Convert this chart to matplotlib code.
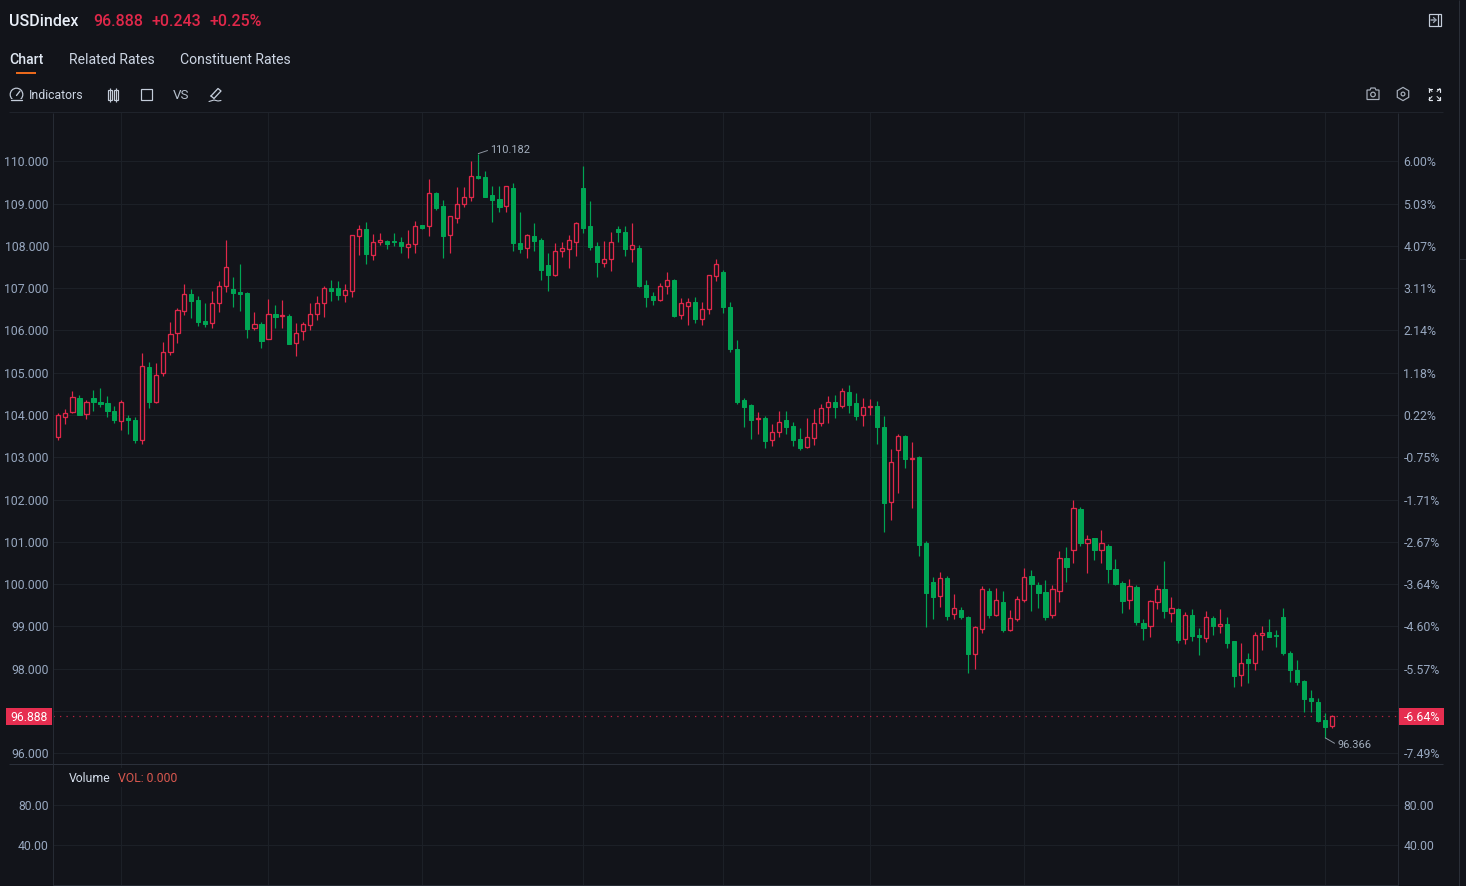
import matplotlib
matplotlib.use("Agg")
import matplotlib.pyplot as plt
from matplotlib.patches import Rectangle, Circle, Polygon
import numpy as np

# candle values, index 0 is the clipped one on the left edge
opens = [103.79,103.49,103.96,104.08,104.41,104.02,104.40,104.31,104.29,104.10,
         103.87,103.93,103.89,103.41,105.14,104.31,105.00,105.50,105.93,106.47,
         106.87,106.72,106.22,106.18,106.64,107.05,106.99,106.91,106.88,106.05,
         106.15,105.80,106.40,106.34,106.34,105.70,105.99,106.12,106.40,106.64,
         107.00,107.00,106.84,106.94,108.24,108.41,107.79,108.08,108.12,108.11,
         108.09,107.97,108.04,108.49,108.48,109.26,108.94,108.26,108.67,108.98,
         109.16,109.65,109.64,109.20,109.10,108.94,109.36,108.07,107.96,108.23,
         108.14,107.54,107.32,107.89,107.93,108.10,109.37,108.47,107.99,107.60,
         107.68,108.39,108.33,107.92,107.96,107.08,106.82,106.72,107.05,107.19,
         106.36,106.57,106.68,106.28,106.50,107.28,107.38,106.56,105.57,104.35,
         104.24,103.90,103.93,103.40,103.59,103.88,103.75,103.43,103.24,103.45,
         103.81,104.19,104.31,104.21,104.55,104.28,104.01,104.18,104.22,103.72,
         101.95,103.17,103.51,102.95,103.00,100.97,100.05,99.71,100.15,99.30,
         99.40,99.22,98.35,98.95,99.85,99.27,99.59,98.92,99.18,99.62,
         100.19,99.98,99.81,99.27,99.85,100.62,100.80,101.79,100.97,101.09,
         100.80,100.90,100.36,100.04,99.63,99.94,99.09,99.00,99.59,99.89,
         99.33,99.41,98.70,99.26,98.81,98.73,99.20,99.00,99.05,98.65,
         97.86,98.23,98.13,98.79,98.87,98.81,99.22,98.37,97.96,97.70,
         97.32,97.21,96.79,96.65]
closes = [103.45,103.99,104.06,104.42,104.01,104.32,104.30,104.25,104.10,103.88,
          104.32,103.88,103.40,105.15,104.32,104.94,105.50,105.92,106.48,106.86,
          106.70,106.19,106.15,106.64,107.06,107.49,106.89,106.86,106.04,106.16,
          105.76,106.38,106.32,106.36,105.69,105.95,106.15,106.40,106.66,107.01,
          106.93,106.84,106.95,108.25,108.41,107.81,108.08,108.13,108.05,108.08,
          108.00,108.04,108.47,108.43,109.24,108.89,108.23,108.70,108.99,109.16,
          109.65,109.60,109.16,109.09,108.92,109.41,108.07,107.93,108.25,108.12,
          107.44,107.32,107.89,107.95,108.14,108.53,108.42,107.97,107.61,107.70,
          108.08,108.32,107.92,108.02,107.04,106.78,106.72,107.05,107.20,106.34,
          106.65,106.68,106.28,106.51,107.30,107.57,106.55,105.55,104.32,104.20,
          103.89,103.93,103.39,103.60,103.83,103.71,103.40,103.23,103.48,103.81,
          104.17,104.31,104.20,104.56,104.24,103.98,104.19,104.21,103.72,101.93,
          102.89,103.51,102.97,102.99,100.93,99.79,99.70,100.15,99.25,99.44,
          99.22,98.35,98.98,99.89,99.27,99.62,98.91,99.21,99.64,100.18,
          100.00,99.79,99.22,99.88,100.63,100.41,101.80,100.97,101.07,100.80,
          100.97,100.36,100.00,99.60,99.95,99.10,98.97,99.60,99.89,99.36,
          99.44,98.69,99.27,98.78,98.74,99.22,99.00,99.05,98.62,97.84,
          98.13,98.14,98.81,98.85,98.76,98.78,98.37,97.96,97.68,97.28,
          97.23,96.76,96.62,96.888]
highs = [103.85,104.04,104.14,104.58,104.47,104.35,104.59,104.65,104.44,104.22,
         104.35,103.99,103.96,105.46,105.26,105.22,105.72,106.19,106.54,107.09,
         106.97,106.82,106.65,106.94,107.17,108.13,107.26,107.56,106.92,106.43,
         106.20,106.74,106.61,106.73,106.40,106.17,106.21,106.65,106.81,107.04,
         107.19,107.18,107.09,108.26,108.49,108.56,108.29,108.30,108.15,108.31,
         108.21,108.38,108.59,108.50,109.57,109.28,109.08,108.70,109.39,109.39,
         110.00,110.182,109.76,109.42,109.42,109.42,109.48,108.79,108.27,108.53,
         108.19,107.82,108.06,108.08,108.26,108.57,109.88,109.05,108.08,108.11,
         108.33,108.46,108.47,108.54,108.02,107.20,106.91,107.13,107.39,107.22,
         106.77,106.77,106.80,106.68,107.32,107.68,107.42,106.68,105.78,104.41,
         104.26,104.07,103.97,103.79,104.09,104.10,103.83,103.69,103.92,104.15,
         104.26,104.46,104.48,104.65,104.72,104.53,104.41,104.38,104.33,103.97,
         103.20,103.55,103.53,103.37,103.04,101.03,100.18,100.28,100.19,99.76,
         99.47,99.25,99.01,99.96,99.91,99.90,99.85,99.38,99.71,100.38,
         100.33,100.06,100.11,99.98,100.78,100.88,102.00,101.83,101.16,101.10,
         101.27,100.94,100.60,100.08,100.13,99.97,99.18,99.63,99.97,100.56,
         99.70,99.43,99.34,99.41,98.96,99.37,99.25,99.41,99.23,98.66,
         98.60,98.38,98.88,99.02,99.18,98.91,99.43,98.41,98.21,97.73,
         97.51,97.32,96.96,96.91]
lows = [103.40,103.40,103.79,104.04,103.99,103.91,104.10,104.20,103.95,103.80,
        103.65,103.55,103.35,103.32,104.17,104.29,104.92,105.41,105.70,106.36,
        106.30,106.11,106.08,106.05,106.44,106.90,106.56,106.47,105.83,106.00,
        105.58,105.80,106.06,106.06,105.68,105.39,105.77,106.01,106.25,106.33,
        106.70,106.72,106.67,106.79,107.79,107.56,107.66,108.02,107.93,108.00,
        107.84,107.71,107.84,108.40,108.24,108.86,107.72,107.82,108.53,108.92,
        109.05,109.57,109.16,108.56,108.80,108.80,107.89,107.84,107.72,107.89,
        107.19,106.93,107.29,107.73,107.48,107.76,108.31,107.90,107.27,107.51,
        107.41,108.08,107.76,107.61,107.02,106.55,106.61,106.70,106.86,106.33,
        106.27,106.12,106.17,106.14,106.40,107.17,106.41,105.50,104.25,103.72,
        103.44,103.54,103.21,103.27,103.49,103.56,103.27,103.18,103.23,103.30,
        103.74,103.82,103.93,104.17,104.05,103.88,103.73,104.01,103.32,101.24,
        101.52,102.16,102.74,101.81,100.67,98.99,99.18,99.45,99.15,99.17,
        99.18,97.89,97.99,98.84,99.20,99.25,98.88,98.89,99.12,99.59,
        99.37,99.44,99.15,99.20,99.59,100.06,100.50,100.90,100.26,100.58,
        100.51,100.04,99.99,99.32,99.42,99.03,98.68,98.76,99.42,99.21,
        99.11,98.60,98.58,98.66,98.33,98.63,98.80,98.84,98.50,97.58,
        97.59,97.66,97.98,98.44,98.74,98.51,98.33,97.68,97.62,96.97,
        96.97,96.73,96.366,96.61]

price_ticks = [110, 109, 108, 107, 106, 105, 104, 103, 102, 101, 100, 99, 98, 97, 96]
price_labels = ["110.000", "109.000", "108.000", "107.000", "106.000", "105.000", "104.000", "103.000",
                "102.000", "101.000", "100.000", "99.000", "98.000", "", "96.000"]
pct_labels = ["6.00%", "5.03%", "4.07%", "3.11%", "2.14%", "1.18%", "0.22%", "-0.75%",
              "-1.71%", "-2.67%", "-3.64%", "-4.60%", "-5.57%", "", "-7.49%"]
time_ticks = [10, 31, 53, 76, 96, 117, 139, 161, 182]
vol_ticks = [80, 40]
vol_labels = ["80.00", "40.00"]
last_price = 96.888

BG = "#12141a"
GRID = "#1c2027"
LINE = "#262b34"
RED = "#e0284a"
GREEN = "#00a554"
TICK = "#98a8c0"
WHITE = "#dfe7f2"
ICON = "#c4cdda"

plt.rcParams["font.family"] = ["Roboto", "DejaVu Sans"]
W, H = 1466, 886
fig = plt.figure(figsize=(W / 100, H / 100), dpi=100, facecolor=BG)
PX = 0.72  # one pixel in points


def box(x0, y0, x1, y1):
    return [x0 / W, 1 - y1 / H, (x1 - x0) / W, (y1 - y0) / H]


# main price panel, 7 px per candle, candle 0 sits at x=51.3
xlim = ((53 - 51.3) / 7, (1398.5 - 51.3) / 7)
ax = fig.add_axes(box(53, 113, 1398.5, 764), facecolor=BG)
ax.set_xlim(xlim)
ax.set_ylim(110 - (764 - 161.3) / 42.29, 110 + (161.3 - 113) / 42.29)
ax.set_yticks(price_ticks)
ax.set_yticklabels(price_labels)
ax.set_xticks(time_ticks)
ax.set_xticklabels([])
ax.tick_params(length=0, labelsize=8.8, labelcolor=TICK, pad=2.9)
ax.grid(True, color=GRID, lw=1.0 * PX)
ax.set_axisbelow(True)
for s in ax.spines.values():
    s.set_visible(False)

ax2 = ax.twinx()
ax2.set_ylim(ax.get_ylim())
ax2.set_yticks(price_ticks)
ax2.set_yticklabels(pct_labels)
ax2.tick_params(length=0, labelsize=8.8, labelcolor=TICK, pad=3.6)
for s in ax2.spines.values():
    s.set_visible(False)

o = np.array(opens)
c = np.array(closes)
hi = np.array(highs)
lo = np.array(lows)
idx = np.arange(len(o))
up = c >= o

ax.axhline(last_price, color=RED, lw=1.2 * PX, ls=(0, (1.1, 4.3)), alpha=0.8, zorder=2)
ax.vlines(idx[up], lo[up], hi[up], color=RED, lw=1.2 * PX, zorder=3)
ax.vlines(idx[~up], lo[~up], hi[~up], color=GREEN, lw=1.2 * PX, zorder=3)
ax.bar(idx[up], (c - o)[up], bottom=o[up], width=4.4 / 7, facecolor=BG, edgecolor=RED, lw=1.3 * PX, zorder=4)
ax.bar(idx[~up], (c - o)[~up], bottom=o[~up], width=4.4 / 7, facecolor=GREEN, edgecolor=GREEN, lw=1.0 * PX, zorder=4)

imax = int(np.argmax(hi))
imin = int(np.argmin(lo))
ax.annotate(f"{hi[imax]:.3f}", xy=(imax, hi[imax]), xytext=(12, 4), textcoords="offset pixels",
            fontsize=7.9, color="#a3aebd", va="center", zorder=6,
            arrowprops=dict(arrowstyle="-", color="#8d94a0", lw=0.7, shrinkA=0, shrinkB=0, relpos=(0, 0.5)))
ax.annotate(f"{lo[imin]:.3f}", xy=(imin, lo[imin]), xytext=(12, -7), textcoords="offset pixels",
            fontsize=7.9, color="#a3aebd", va="center", zorder=6,
            arrowprops=dict(arrowstyle="-", color="#8d94a0", lw=0.7, shrinkA=0, shrinkB=0, relpos=(0, 0.5)))

# volume panel, nothing traded so no bars
vax = fig.add_axes(box(53, 764, 1398.5, 885), facecolor=BG)
vax.set_xlim(xlim)
vax.set_ylim(0, 121)
vax.set_yticks(vol_ticks)
vax.set_yticklabels(vol_labels)
vax.set_xticks(time_ticks)
vax.set_xticklabels([])
vax.tick_params(length=0, labelsize=8.8, labelcolor=TICK, pad=2.9)
vax.grid(True, color=GRID, lw=1.0 * PX)
vax.set_axisbelow(True)
for s in vax.spines.values():
    s.set_visible(False)
vax2 = vax.twinx()
vax2.set_ylim(vax.get_ylim())
vax2.set_yticks(vol_ticks)
vax2.set_yticklabels(vol_labels)
vax2.tick_params(length=0, labelsize=8.8, labelcolor=TICK, pad=3.6)
for s in vax2.spines.values():
    s.set_visible(False)

# page furniture in pixel coordinates
ov = fig.add_axes([0, 0, 1, 1], facecolor="none", zorder=10)
ov.set_xlim(0, W)
ov.set_ylim(H, 0)
ov.axis("off")


def hline(x0, x1, y, col=LINE, lw=1.0):
    ov.plot([x0, x1], [y, y], color=col, lw=lw * PX, solid_capstyle="butt")


def vline(x, y0, y1, col=LINE, lw=1.0):
    ov.plot([x, x], [y0, y1], color=col, lw=lw * PX, solid_capstyle="butt")


def stroke(xs, ys, col=ICON, lw=1.3):
    ov.plot(xs, ys, color=col, lw=lw * PX, solid_capstyle="round", solid_joinstyle="round")


hline(9, 1443, 111.9, col="#1f232b")
hline(9, 1443, 763.9, col="#2b303a")
hline(53, 1398, 884.9)
vline(52.9, 113, 886)
vline(1397.9, 113, 886)
vline(1459.1, 0, 886, col="#2a2e37")
hline(1459, 1466, 258.5, col="#2a2e37")

ov.text(9, 21, "USDindex", color="#e8eef7", fontsize=11.5, fontweight="medium", va="center")
ov.text(93.5, 21, "96.888", color=RED, fontsize=11.5, fontweight="medium", va="center")
ov.text(151.5, 21, "+0.243", color=RED, fontsize=11.5, fontweight="medium", va="center")
ov.text(209.5, 21, "+0.25%", color=RED, fontsize=11.5, fontweight="medium", va="center")

ov.text(9.5, 60, "Chart", color=WHITE, fontsize=10.1, fontweight="medium", va="center")
ov.text(69, 60, "Related Rates", color="#cdd6e4", fontsize=10.1, va="center")
ov.text(180, 60, "Constituent Rates", color="#cdd6e4", fontsize=10.1, va="center")
ov.add_patch(Rectangle((16, 72), 20, 2, facecolor="#e9691c", edgecolor="none"))

# toolbar icons
ov.add_patch(Circle((16.5, 94.5), 6.3, facecolor="none", edgecolor=ICON, lw=1.2 * PX))
ov.add_patch(Rectangle((9, 98.5), 15, 3, facecolor=BG, edgecolor="none"))
stroke([11, 22], [100, 100])
stroke([16.5, 20], [95.5, 91])
ov.text(29, 95.5, "Indicators", color="#cdd6e4", fontsize=8.8, va="center")
for xc in (109.5, 115.5):
    ov.add_patch(Rectangle((xc - 2, 90), 4, 9.5, facecolor="none", edgecolor=ICON, lw=1.2 * PX))
    vline(xc, 87.5, 101.5, col=ICON, lw=1.2)
ov.add_patch(Rectangle((141, 88.5), 11, 11, facecolor="none", edgecolor=ICON, lw=1.2 * PX))
ov.text(181, 95, "VS", color="#b5bfcc", fontsize=9.6, va="center", ha="center")
stroke([211, 218, 221, 214, 211], [96, 88.5, 91, 98.5, 96])
stroke([209, 214, 218, 221], [101.5, 100, 101, 100.5], lw=1.1)

# right hand icons
ov.add_patch(Rectangle((1428.5, 13.5), 12.5, 12.5, facecolor="none", edgecolor=ICON, lw=1.2 * PX))
vline(1438, 13.5, 26, col=ICON, lw=1.2)
stroke([1431, 1435.5], [20, 20], col="#9aa3b0", lw=1.5)
stroke([1433.5, 1436, 1433.5], [17.5, 20, 22.5], col="#9aa3b0", lw=1.3)
ov.add_patch(Polygon([(1367, 90), (1370, 90), (1371, 88), (1375, 88), (1376, 90), (1379, 90),
                      (1379, 99.5), (1367, 99.5)], closed=True, facecolor="none",
                     edgecolor="#a8b0bc", lw=1.2 * PX))
ov.add_patch(Circle((1373, 94.5), 2.3, facecolor="none", edgecolor="#a8b0bc", lw=1.2 * PX))
ang = np.radians(np.arange(30, 390, 60))
ov.add_patch(Polygon(np.c_[1403 + 6.6 * np.cos(ang), 94 + 6.6 * np.sin(ang)], closed=True,
                     facecolor="none", edgecolor="#a8b0bc", lw=1.2 * PX))
ov.add_patch(Circle((1403, 94), 1.9, facecolor="none", edgecolor="#a8b0bc", lw=1.2 * PX))
for sx, sy in ((-1, -1), (1, -1), (-1, 1), (1, 1)):
    x0, y0 = 1434.5 + sx * 5.5, 94 + sy * 5.5
    stroke([x0 - sx * 3, x0, x0], [y0, y0, y0 - sy * 3], col="#e2e7ee", lw=1.2)
    stroke([x0, x0 - sx * 3], [y0, y0 - sy * 3], col="#e2e7ee", lw=1.0)

# last price tags
ov.add_patch(Rectangle((6, 708), 46, 17, facecolor="#e62e50", edgecolor="none"))
ov.text(48, 717.5, f"{last_price:.3f}", color="#ffffff", fontsize=8.8, ha="right", va="center")
ov.add_patch(Rectangle((1399, 708), 45, 17, facecolor="#e62e50", edgecolor="none"))
ov.text(1404, 717.5, "-6.64%", color="#ffffff", fontsize=8.8, va="center")

# volume legend has its own background over the grid
ov.add_patch(Rectangle((62, 768), 120, 19, facecolor=BG, edgecolor="none"))
ov.text(69, 778.5, "Volume", color="#d2dbe8", fontsize=8.8, va="center")
ov.text(118, 778.5, "VOL: 0.000", color="#d9584f", fontsize=8.8, va="center")

fig.savefig("out.png", dpi=100, facecolor=BG)
